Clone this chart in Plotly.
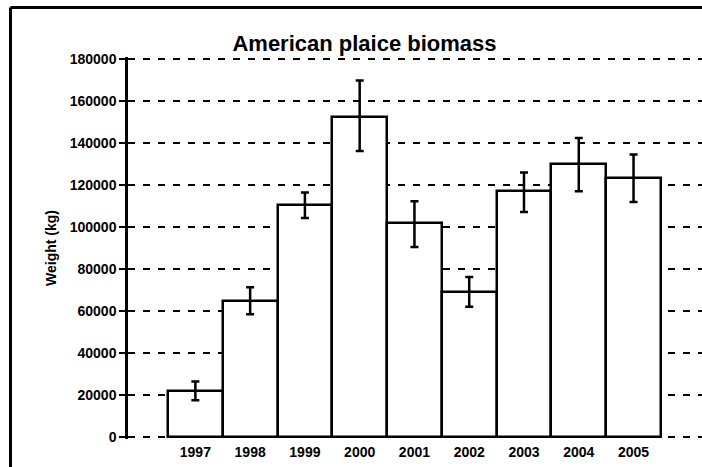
import plotly.graph_objects as go

years = ["1997", "1998", "1999", "2000", "2001", "2002", "2003", "2004", "2005"]
biomass = [21800, 64900, 110600, 152500, 101700, 68900, 117000, 129800, 123200]
err_plus = [4600, 6400, 5800, 17300, 10600, 7300, 9000, 12600, 11400]
err_minus = [4300, 6500, 6300, 16300, 11200, 6900, 9900, 12800, 11300]
ytick_vals = [0, 20000, 40000, 60000, 80000, 100000, 120000, 140000, 160000, 180000]
ytick_text = ["0", "20000", "40000", "60000", "80000", "100000", "120000", "140000", "160000", "180000"]

FONT = "Liberation Sans, Arial, sans-serif"

W, H = 702, 467
ML, MR, MT, MB = 128, 0, 57, 28   # plot area 128..702 x 57..439
PW, PH = W - ML - MR, H - MT - MB

fig = go.Figure()
fig.add_trace(go.Bar(
    x=years, y=biomass,
    marker=dict(color="white", line=dict(color="black", width=2.5)),
    error_y=dict(type="data", symmetric=False, array=err_plus, arrayminus=err_minus,
                 color="black", thickness=2.5, width=4),
    width=1.0,
))

fig.update_layout(
    width=W, height=H,
    margin=dict(l=ML, r=MR, t=MT, b=MB, autoexpand=False),
    paper_bgcolor="white", plot_bgcolor="white",
    showlegend=False,
    bargap=0,
    title=dict(text="<b>American plaice biomass</b>", x=364.5 / W, xanchor="center",
               y=1 - 43.5 / H, yanchor="middle",
               font=dict(family=FONT, size=22, color="black")),
    font=dict(family=FONT, color="black"),
)

fig.update_xaxes(
    type="category", range=[-1.23, 9.25],
    showgrid=False, showline=False, zeroline=False, ticks="",
    tickfont=dict(family=FONT, size=14, color="black", weight="bold"),
    ticklabelstandoff=3,
)
fig.update_yaxes(
    range=[-1000, 181000],
    tickvals=ytick_vals, ticktext=ytick_text,
    showgrid=True, gridcolor="black", gridwidth=1.5, griddash="7px,8px",
    zeroline=False,
    showline=True, linecolor="black", linewidth=2.5,
    ticks="outside", ticklen=6, tickwidth=2, tickcolor="black",
    tickfont=dict(family=FONT, size=14, color="black", weight="bold"),
    ticklabelstandoff=0,
    title=dict(text="<b>Weight (kg)</b>", font=dict(family=FONT, size=14, color="black"),
               standoff=10),
)

# outer chart frame: only its left and top edges fall inside the picture
fx0 = (10.5 - ML) / PW
fy1 = (H - MB - 7.5) / PH
fig.add_shape(type="line", xref="paper", yref="paper",
              x0=fx0, x1=fx0, y0=(H - MB - 480) / PH, y1=fy1,
              line=dict(color="black", width=3), layer="above")
fig.add_shape(type="line", xref="paper", yref="paper",
              x0=fx0, x1=(720 - ML) / PW, y0=fy1, y1=fy1,
              line=dict(color="black", width=3), layer="above")

fig.write_html("out.html", config={"displayModeBar": False},
               post_script="document.body.style.margin='0';document.body.style.overflow='hidden';")
